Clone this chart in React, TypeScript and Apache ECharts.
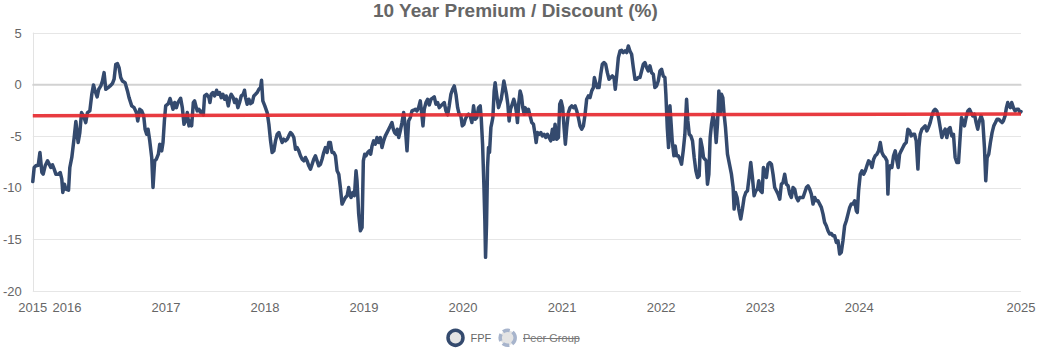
import { useEffect, useRef } from "react";
import * as echarts from "echarts";

// x values are decimal years, y values are premium / discount in %
const xMin = 2015.655;
const xMax = 2025.634;
const yearTicks = [xMin, 2016, 2017, 2018, 2019, 2020, 2021, 2022, 2023, 2024, xMax];
const yTicks = { min: -20, max: 5, interval: 5 };

const fpf2015: [number, number][] = [
  [2015.655, -9.39], [2015.669, -8.03], [2015.686, -7.87], [2015.71, -7.81], [2015.727, -6.58], [2015.747, -8.52],
  [2015.76, -8.68], [2015.78, -7.87], [2015.804, -7.39], [2015.821, -7.71], [2015.837, -8.03], [2015.854, -7.77],
  [2015.871, -8.19], [2015.888, -8.68], [2015.915, -8.68], [2015.932, -8.52], [2015.948, -9.16], [2015.958, -10.45],
  [2015.975, -9.65], [2015.989, -10.13], [2016.016, -10.23], [2016.029, -8.03], [2016.049, -7.06], [2016.073, -5.13],
  [2016.09, -3.58], [2016.113, -5.61], [2016.13, -4.65], [2016.147, -2.71], [2016.167, -3.03], [2016.19, -3.68],
  [2016.207, -2.71], [2016.231, -2.55], [2016.251, -0.94], [2016.268, -0.03], [2016.284, -0.61], [2016.305, -1.19],
  [2016.321, -0.45], [2016.342, -0.13], [2016.358, 0.35], [2016.375, 1.16], [2016.392, -0.45], [2016.416, -0.29],
  [2016.436, -0.13], [2016.459, 0.1], [2016.476, 0.52], [2016.493, 1.97], [2016.51, 2.03], [2016.526, 1.65],
  [2016.543, 0.68], [2016.56, 0.35], [2016.587, 0.19], [2016.611, -0.61], [2016.627, -1.26], [2016.654, -2.06],
  [2016.678, -2.23], [2016.701, -2.71], [2016.715, -3.52], [2016.735, -2.39], [2016.755, -2.55], [2016.775, -3.03],
  [2016.789, -4.32], [2016.805, -4.81], [2016.819, -4.32], [2016.836, -5.45], [2016.856, -7.06], [2016.869, -9.97],
  [2016.886, -7.39], [2016.903, -7.23], [2016.923, -6.74], [2016.937, -5.77], [2016.957, -6.42], [2016.97, -5.61],
  [2016.984, -3.52], [2016.997, -2.06], [2017.024, -1.84], [2017.041, -1.35], [2017.058, -1.9], [2017.071, -2.39],
  [2017.088, -1.74], [2017.105, -2.23], [2017.121, -1.74], [2017.148, -1.32], [2017.165, -2.23], [2017.182, -3.84],
  [2017.199, -3.52], [2017.215, -2.71], [2017.232, -4.0], [2017.252, -3.52], [2017.259, -4.0], [2017.276, -1.74],
  [2017.289, -1.58], [2017.306, -2.23],
];

const fpf2017: [number, number][] = [
  [2017.316, -2.55], [2017.333, -2.39], [2017.35, -2.71], [2017.367, -2.55], [2017.377, -2.94], [2017.39, -1.1],
  [2017.41, -0.94], [2017.434, -1.26], [2017.444, -1.74], [2017.457, -0.94], [2017.474, -0.77], [2017.491, -1.1],
  [2017.511, -0.55], [2017.524, -0.94], [2017.541, -0.77], [2017.558, -1.26], [2017.575, -0.94], [2017.592, -1.42],
  [2017.608, -1.1], [2017.629, -2.06], [2017.645, -1.26], [2017.659, -0.94], [2017.679, -1.26], [2017.693, -1.74],
  [2017.709, -1.42], [2017.726, -2.23], [2017.743, -1.74], [2017.76, -1.1], [2017.78, -0.94], [2017.793, -0.55],
  [2017.803, -1.26], [2017.82, -1.9], [2017.837, -1.42], [2017.854, -1.84], [2017.871, -1.74], [2017.887, -1.1],
  [2017.904, -0.94], [2017.921, -0.77], [2017.938, -0.45], [2017.955, -0.29], [2017.965, 0.42], [2017.978, -1.58],
  [2017.998, -2.06], [2018.022, -2.71], [2018.039, -3.84], [2018.056, -5.45], [2018.072, -6.58], [2018.089, -6.42],
  [2018.106, -5.45], [2018.123, -4.81], [2018.14, -4.65], [2018.156, -5.13], [2018.173, -5.61], [2018.19, -5.29],
  [2018.207, -5.45], [2018.224, -5.29], [2018.24, -4.97], [2018.257, -4.65], [2018.274, -4.81], [2018.291, -5.13],
  [2018.308, -6.26], [2018.324, -6.1], [2018.341, -6.42], [2018.358, -6.9], [2018.375, -7.23], [2018.392, -7.39],
  [2018.408, -7.06], [2018.425, -7.39], [2018.442, -7.87], [2018.459, -8.19], [2018.476, -7.71], [2018.492, -7.23],
  [2018.509, -6.9], [2018.526, -7.39], [2018.543, -7.87], [2018.56, -7.71], [2018.576, -7.23], [2018.593, -6.58],
  [2018.61, -6.1], [2018.627, -6.58], [2018.644, -5.61], [2018.66, -5.61], [2018.677, -6.58], [2018.694, -6.58],
  [2018.711, -6.9], [2018.728, -8.35], [2018.745, -8.68], [2018.761, -9.97], [2018.778, -11.58], [2018.795, -11.26],
  [2018.812, -10.94], [2018.829, -10.77], [2018.845, -9.97], [2018.855, -10.61], [2018.869, -10.94], [2018.886, -10.45],
  [2018.903, -10.77], [2018.919, -8.35], [2018.929, -9.32], [2018.946, -12.55], [2018.963, -14.16], [2018.98, -13.84],
];

const fpf2019: [number, number][] = [
  [2018.993, -7.39], [2019.007, -6.74], [2019.02, -6.9], [2019.037, -6.58], [2019.054, -6.42], [2019.067, -6.74],
  [2019.081, -5.94], [2019.097, -5.45], [2019.114, -5.77], [2019.131, -5.13], [2019.148, -5.61], [2019.165, -5.13],
  [2019.181, -6.1], [2019.198, -5.45], [2019.215, -4.97], [2019.232, -4.65], [2019.249, -4.32], [2019.266, -4.0],
  [2019.282, -3.68], [2019.296, -4.32], [2019.309, -4.65], [2019.323, -4.81], [2019.336, -4.32], [2019.35, -5.13],
  [2019.366, -4.48], [2019.383, -3.68], [2019.4, -2.71], [2019.417, -4.16], [2019.434, -6.42], [2019.45, -3.52],
  [2019.467, -3.19], [2019.484, -2.55], [2019.501, -2.48], [2019.518, -2.39], [2019.534, -2.55], [2019.551, -2.23],
  [2019.568, -1.58], [2019.585, -3.03], [2019.595, -4.0], [2019.608, -2.39], [2019.625, -1.74], [2019.642, -1.42],
  [2019.659, -1.97], [2019.676, -1.42], [2019.692, -1.32], [2019.709, -1.19], [2019.726, -1.9], [2019.743, -1.74],
  [2019.76, -2.23], [2019.776, -2.06], [2019.793, -1.9], [2019.81, -1.74], [2019.827, -2.55], [2019.844, -2.94],
  [2019.86, -2.06], [2019.877, -0.94], [2019.894, -0.45], [2019.911, -0.13], [2019.928, -0.94], [2019.945, -2.23],
  [2019.961, -2.87], [2019.978, -3.03], [2019.992, -4.0], [2020.008, -3.84], [2020.022, -3.35], [2020.039, -3.03],
  [2020.055, -2.87], [2020.072, -3.03], [2020.089, -3.68], [2020.106, -2.06], [2020.123, -3.35], [2020.139, -3.19],
  [2020.156, -2.23], [2020.173, -2.06], [2020.183, -3.19], [2020.197, -5.77], [2020.21, -9.65], [2020.22, -13.19],
  [2020.227, -16.74], [2020.237, -13.52], [2020.247, -8.03], [2020.257, -6.1], [2020.267, -6.58], [2020.281, -4.16],
  [2020.291, -3.68], [2020.301, -3.19], [2020.314, -0.61], [2020.324, 0.19], [2020.334, -0.61], [2020.348, -1.58],
  [2020.358, -2.23], [2020.368, -1.9], [2020.385, -1.42], [2020.398, -0.61], [2020.412, 0.35], [2020.425, -0.29],
  [2020.438, -0.94], [2020.452, -1.9], [2020.465, -3.52], [2020.479, -2.39], [2020.496, -1.9], [2020.512, -1.42],
  [2020.526, -1.9], [2020.539, -2.71], [2020.549, -3.68], [2020.563, -1.74], [2020.576, -0.61], [2020.59, -1.1],
  [2020.603, -2.23], [2020.617, -2.87],
];

const fpf2020: [number, number][] = [
  [2020.627, -2.23], [2020.643, -2.71], [2020.66, -2.39], [2020.677, -3.03], [2020.694, -3.68], [2020.711, -3.84],
  [2020.727, -4.81], [2020.738, -5.61], [2020.751, -4.65], [2020.768, -4.81], [2020.785, -4.65], [2020.801, -4.97],
  [2020.818, -4.81], [2020.835, -5.13], [2020.852, -4.81], [2020.869, -5.13], [2020.885, -5.45], [2020.902, -4.32],
  [2020.916, -5.29], [2020.929, -3.84], [2020.946, -5.29], [2020.963, -5.13], [2020.976, -1.9], [2020.99, -1.58],
  [2021.006, -2.23], [2021.02, -4.16], [2021.033, -5.77], [2021.047, -4.16], [2021.064, -2.71], [2021.08, -2.23],
  [2021.097, -2.06], [2021.114, -2.23], [2021.131, -2.06], [2021.148, -2.55], [2021.164, -3.19], [2021.181, -4.0],
  [2021.198, -4.32], [2021.215, -4.0], [2021.232, -2.87], [2021.248, -1.42], [2021.265, -1.1], [2021.282, -1.26],
  [2021.299, -0.61], [2021.316, -0.29], [2021.326, 0.68], [2021.339, 0.19], [2021.356, -0.29], [2021.373, -0.29],
  [2021.39, 1.0], [2021.406, 1.97], [2021.423, 2.13], [2021.44, 1.97], [2021.457, 1.16], [2021.474, 0.52],
  [2021.49, 0.68], [2021.507, 0.84], [2021.524, 0.68], [2021.537, -0.45], [2021.551, 0.84], [2021.568, 2.61],
  [2021.585, 3.26], [2021.601, 3.32], [2021.618, 3.1], [2021.635, 3.26], [2021.652, 3.1], [2021.669, 3.74],
  [2021.685, 3.26], [2021.702, 2.94], [2021.719, 1.65], [2021.736, 0.52], [2021.753, 0.52], [2021.769, 0.68],
  [2021.786, 0.68], [2021.803, 1.32], [2021.82, 1.97], [2021.837, 2.13], [2021.853, 1.65], [2021.87, 1.32],
  [2021.887, 1.81], [2021.904, 1.16], [2021.921, 1.0], [2021.937, -0.29], [2021.954, -0.13], [2021.971, 0.35],
  [2021.988, 1.32], [2022.005, 1.48], [2022.021, 0.84], [2022.038, 0.68], [2022.048, -0.94], [2022.062, -4.16],
  [2022.075, -6.1], [2022.089, -2.06], [2022.099, -3.52], [2022.112, -5.45], [2022.129, -6.9], [2022.142, -5.94],
  [2022.156, -6.9], [2022.173, -6.9], [2022.19, -7.23], [2022.206, -7.71], [2022.223, -6.42], [2022.24, -4.81],
  [2022.257, -1.42], [2022.27, -3.52], [2022.284, -4.81], [2022.3, -4.97],
];

const fpf2022: [number, number][] = [
  [2022.317, -5.45], [2022.334, -7.06], [2022.351, -8.35], [2022.368, -9.0], [2022.384, -8.84], [2022.398, -5.29],
  [2022.415, -6.1], [2022.428, -7.06], [2022.441, -7.23], [2022.455, -7.39], [2022.468, -9.65], [2022.482, -8.68],
  [2022.495, -5.13], [2022.509, -3.84], [2022.525, -2.87], [2022.542, -3.84], [2022.556, -5.61], [2022.569, -3.84],
  [2022.583, -0.61], [2022.596, -2.87], [2022.609, -0.94], [2022.623, -1.26], [2022.636, -2.87], [2022.65, -4.16],
  [2022.67, -6.74], [2022.69, -7.71], [2022.71, -8.68], [2022.727, -9.97], [2022.737, -12.06], [2022.751, -10.45],
  [2022.767, -10.94], [2022.784, -12.06], [2022.804, -13.03], [2022.821, -12.06], [2022.838, -10.94], [2022.855, -10.45],
  [2022.872, -10.29], [2022.888, -9.0], [2022.905, -7.55], [2022.922, -9.0], [2022.939, -10.77], [2022.956, -10.29],
  [2022.973, -10.13], [2022.986, -9.32], [2023.003, -10.29], [2023.02, -10.45], [2023.033, -8.03], [2023.046, -8.35],
  [2023.063, -9.0], [2023.08, -7.71], [2023.097, -7.55], [2023.114, -7.71], [2023.13, -8.68], [2023.147, -9.97],
  [2023.164, -10.29], [2023.181, -10.61], [2023.198, -11.1], [2023.214, -9.65], [2023.231, -9.48], [2023.248, -8.68],
  [2023.265, -9.65], [2023.282, -9.81], [2023.299, -10.61], [2023.315, -10.94], [2023.332, -9.97], [2023.349, -10.13],
  [2023.366, -10.94], [2023.383, -11.26], [2023.399, -10.94], [2023.416, -10.94], [2023.433, -10.94], [2023.45, -10.45],
  [2023.467, -9.97], [2023.483, -9.81], [2023.5, -10.13], [2023.517, -10.61], [2023.534, -11.58], [2023.551, -10.94],
  [2023.567, -11.26], [2023.584, -11.26], [2023.601, -11.58], [2023.618, -11.9], [2023.635, -12.55], [2023.651, -13.35],
  [2023.668, -13.68], [2023.685, -14.16], [2023.702, -14.48], [2023.719, -14.42], [2023.735, -14.65], [2023.752, -14.65],
  [2023.769, -15.29], [2023.786, -15.13], [2023.803, -16.42], [2023.819, -16.26], [2023.836, -15.13], [2023.853, -13.68],
  [2023.87, -13.19], [2023.887, -12.55], [2023.904, -11.9], [2023.92, -11.58], [2023.937, -11.58],
];

const fpf2024: [number, number][] = [
  [2023.954, -11.26], [2023.971, -12.23], [2023.981, -12.39], [2023.994, -10.29], [2024.011, -8.68], [2024.028, -8.35],
  [2024.045, -8.68], [2024.062, -8.35], [2024.078, -7.87], [2024.095, -7.39], [2024.112, -7.55], [2024.129, -8.03],
  [2024.146, -7.23], [2024.162, -6.9], [2024.179, -6.74], [2024.196, -6.42], [2024.213, -5.61], [2024.23, -6.58],
  [2024.246, -6.9], [2024.263, -7.06], [2024.28, -7.39], [2024.29, -10.61], [2024.3, -8.35], [2024.314, -7.87],
  [2024.33, -8.03], [2024.347, -6.9], [2024.364, -6.42], [2024.381, -7.39], [2024.394, -8.03], [2024.408, -6.74],
  [2024.424, -6.42], [2024.441, -6.1], [2024.458, -5.77], [2024.475, -5.61], [2024.492, -4.32], [2024.509, -4.48],
  [2024.525, -4.97], [2024.542, -4.81], [2024.559, -4.81], [2024.576, -5.45], [2024.593, -8.19], [2024.603, -6.1],
  [2024.616, -4.81], [2024.633, -4.32], [2024.65, -4.16], [2024.666, -4.0], [2024.683, -4.48], [2024.7, -4.16],
  [2024.717, -3.68], [2024.734, -3.03], [2024.751, -2.55], [2024.767, -2.39], [2024.784, -2.55], [2024.801, -3.19],
  [2024.818, -4.16], [2024.835, -5.13], [2024.851, -4.65], [2024.868, -4.32], [2024.885, -5.13], [2024.902, -4.32],
  [2024.918, -4.16], [2024.935, -4.97], [2024.952, -4.81], [2024.969, -7.06], [2024.986, -7.55], [2025.003, -7.55],
  [2025.019, -5.13], [2025.033, -3.19], [2025.046, -3.52], [2025.063, -4.0], [2025.08, -3.19], [2025.097, -2.55],
  [2025.114, -2.39], [2025.13, -2.71], [2025.147, -3.03], [2025.164, -2.87], [2025.181, -3.68], [2025.197, -4.32],
  [2025.214, -3.52], [2025.231, -3.03], [2025.248, -3.52], [2025.265, -6.1], [2025.278, -9.32], [2025.292, -7.06],
  [2025.308, -6.74], [2025.325, -5.61], [2025.342, -4.65], [2025.359, -4.0], [2025.376, -3.68], [2025.392, -3.35],
  [2025.409, -3.35], [2025.426, -3.52], [2025.443, -3.68], [2025.456, -3.52], [2025.473, -3.03], [2025.487, -2.23],
  [2025.5, -1.74], [2025.514, -2.06], [2025.527, -2.23], [2025.54, -1.74], [2025.557, -2.23], [2025.574, -2.55],
  [2025.591, -2.39], [2025.608, -2.39], [2025.624, -2.71], [2025.634, -2.61],
];

const averageLine: [number, number][] = [
  [xMin, -3.02],
  [xMax, -2.84],
];

const zeroLine: [number, number][] = [
  [xMin, 0],
  [xMax, 0],
];

const FONT = "'Liberation Sans', Arial, Helvetica, sans-serif";
const NAVY = "#344a6e";

export default function App() {
  const ref = useRef<HTMLDivElement>(null);
  useEffect(() => {
    if (!ref.current) return;
    const chart = echarts.init(ref.current, null, { renderer: "svg" });
    const fpf = [...fpf2015, ...fpf2017, ...fpf2019, ...fpf2020, ...fpf2022, ...fpf2024];
    chart.setOption({
      animation: false,
      backgroundColor: "#ffffff",
      textStyle: { fontFamily: FONT },
      title: {
        text: "10 Year Premium / Discount (%)",
        left: 373,
        top: 1,
        padding: 0,
        textStyle: { fontFamily: FONT, fontSize: 19, fontWeight: "bold", color: "#666666" },
      },
      grid: { left: 31, right: 26, top: 33, bottom: 65, containLabel: false },
      xAxis: {
        type: "value",
        min: xMin,
        max: xMax,
        axisLine: { show: true, lineStyle: { color: "#d6d6d6", width: 1.5 } },
        axisTick: { show: false },
        splitLine: { show: false },
        axisLabel: {
          customValues: yearTicks,
          margin: 10,
          color: "#666666",
          fontSize: 13,
          fontFamily: FONT,
          hideOverlap: false,
          formatter: (v: number) => String(Math.floor(v + 0.0001)),
        },
      },
      yAxis: {
        type: "value",
        min: yTicks.min,
        max: yTicks.max,
        interval: yTicks.interval,
        axisLine: { show: true, lineStyle: { color: "#e3e3e3", width: 1 } },
        axisTick: { show: false },
        splitLine: { show: true, lineStyle: { color: "#e6e6e6", width: 1 } },
        axisLabel: { margin: 11, color: "#666666", fontSize: 13, fontFamily: FONT },
      },
      series: [
        {
          name: "zero",
          type: "line",
          data: zeroLine,
          symbol: "none",
          silent: true,
          z: 1,
          lineStyle: { color: "#d2d2d2", width: 1.5 },
        },
        {
          name: "FPF",
          type: "line",
          data: fpf,
          symbol: "none",
          z: 3,
          lineStyle: { color: NAVY, width: 3.5, cap: "round", join: "round" },
        },
        {
          name: "Average",
          type: "line",
          data: averageLine,
          symbol: "none",
          silent: true,
          z: 4,
          lineStyle: { color: "#e5262b", width: 3.5, opacity: 0.9 },
        },
      ],
      graphic: [
        {
          type: "circle",
          shape: { cx: 455.5, cy: 337.8, r: 7.5 },
          style: { fill: "#e4e4e4", stroke: NAVY, lineWidth: 3.5 },
        },
        {
          type: "text",
          x: 470.5,
          y: 338,
          style: { text: "FPF", fill: "#666666", font: `11px ${FONT}`, textVerticalAlign: "middle", verticalAlign: "middle" },
        },
        {
          type: "circle",
          shape: { cx: 507.7, cy: 337.8, r: 7.5 },
          style: { fill: "#e4e4e4", stroke: "#a7b4cc", lineWidth: 3.5, lineDash: [7, 3] },
        },
        {
          type: "text",
          x: 523,
          y: 338,
          style: { text: "Peer Group", fill: "#777777", font: `11px ${FONT}`, textVerticalAlign: "middle", verticalAlign: "middle" },
        },
        {
          type: "line",
          shape: { x1: 523, y1: 338.5, x2: 579.5, y2: 338.5 },
          style: { stroke: "#777777", lineWidth: 1 },
        },
      ],
    });
    return () => chart.dispose();
  }, []);
  return (
    <div
      ref={ref}
      style={{ position: "fixed", left: 0, top: 0, width: 1047, height: 356, background: "#fff" }}
    />
  );
}
